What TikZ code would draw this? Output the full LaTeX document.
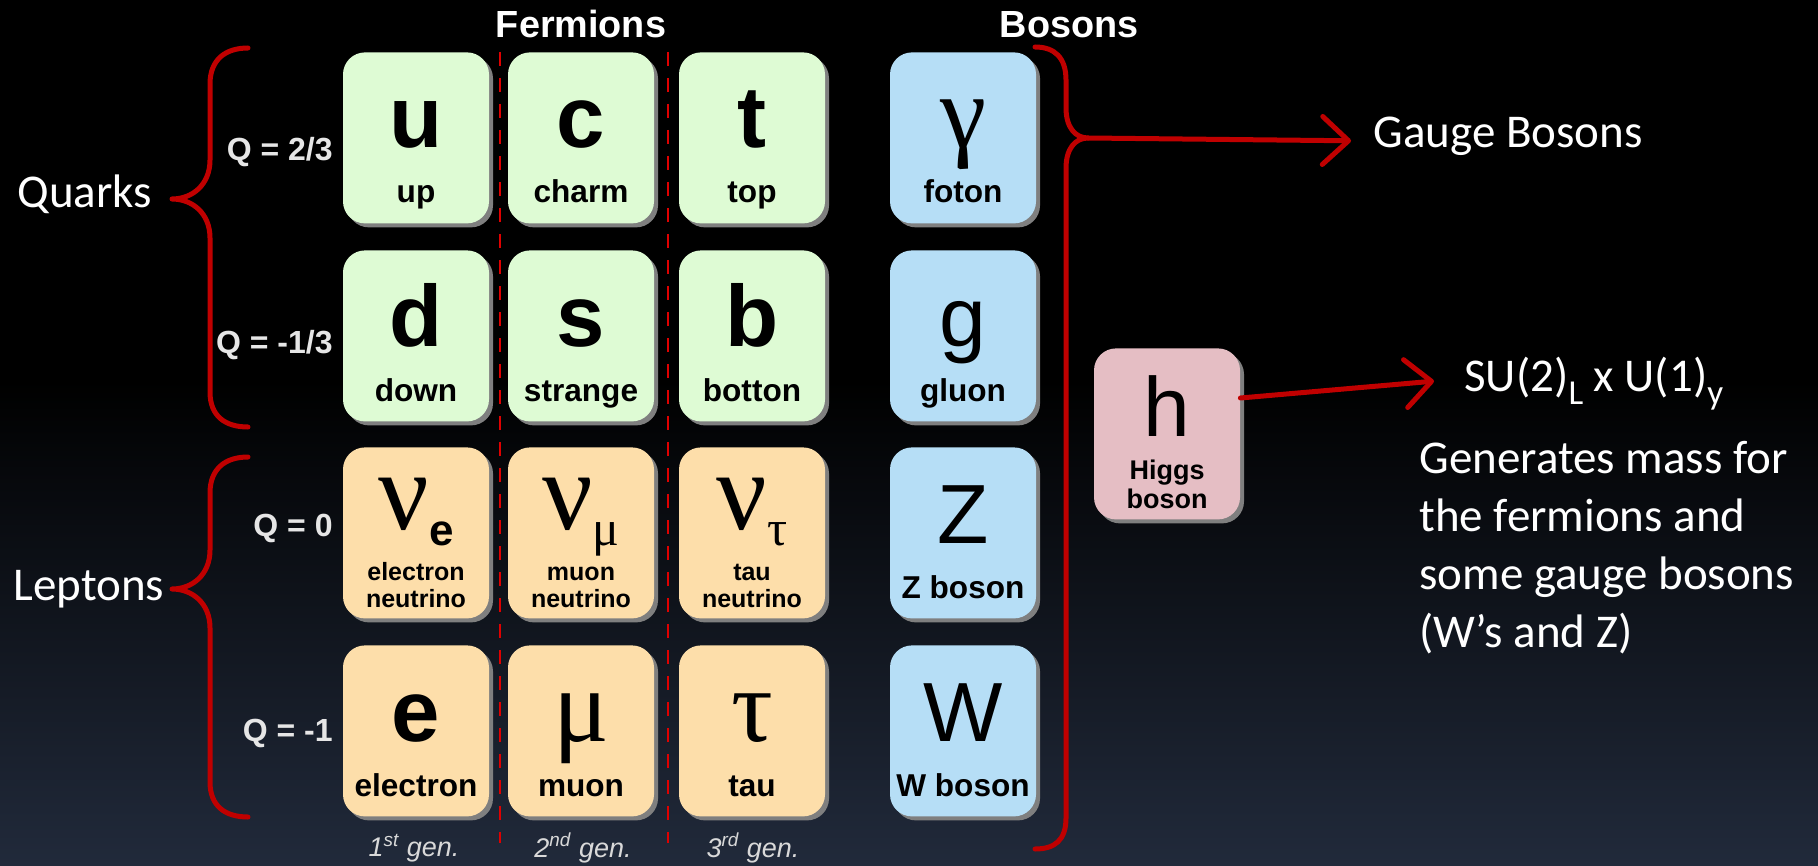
\documentclass[tikz,border=0pt]{standalone}
\usepackage{fontspec}
\setmainfont{Carlito}
\newfontfamily\arialf{Liberation Sans}
\newfontfamily\timesf{Liberation Serif}
\usetikzlibrary{arrows.meta,shadows}

\definecolor{quarkfill}{HTML}{DEFBD4}
\definecolor{leptonfill}{HTML}{FDDEAA}
\definecolor{bosonfill}{HTML}{B6DEF6}
\definecolor{higgsfill}{HTML}{E5BEC4}
\definecolor{shadowgray}{HTML}{7F7F7F}
\definecolor{bracered}{HTML}{C00000}
\definecolor{dashred}{HTML}{E00000}
\definecolor{qgray}{HTML}{E6E6E6}
\definecolor{gengray}{HTML}{D9D9D9}
\definecolor{bgbottom}{HTML}{212A3B}

\newcommand\fsz[1]{\fontsize{#1}{#1}\selectfont}

\tikzset{
  pbox/.style={rectangle, rounded corners=11pt, minimum width=73pt,
    minimum height=85.5pt, inner sep=0pt,
    drop shadow={shadow xshift=2pt, shadow yshift=-2pt, fill=shadowgray, opacity=1}},
  bigsym/.style={font=\arialf\bfseries\fsz{43.5pt}, inner sep=0pt, anchor=base},
  regsym/.style={font=\arialf\fsz{42pt}, inner sep=0pt, anchor=base},
  greeksym/.style={font=\timesf\fsz{52pt}, inner sep=0pt, anchor=base},
  plabel/.style={font=\arialf\bfseries\fsz{15.8pt}, inner sep=0pt, anchor=base},
  slabel/.style={font=\arialf\bfseries\fsz{12.5pt}, inner sep=0pt, anchor=base},
  qlabel/.style={font=\arialf\bfseries\fsz{16pt}, text=qgray, inner sep=0pt, anchor=east},
  header/.style={font=\arialf\bfseries\fsz{18.9pt}, text=white, inner sep=0pt},
  genlabel/.style={font=\arialf\itshape\fsz{13.5pt}, text=gengray, inner sep=0pt},
  sidetext/.style={font=\fsz{23.5pt}, text=white, inner sep=0pt, anchor=base west},
  brace/.style={draw=bracered, line width=2.5pt, line cap=round, line join=round},
  redarrow/.style={draw=bracered, line width=2.5pt, line cap=round,
    -{Straight Barb[length=13pt, width=24pt, line cap=round, line join=round]}},
  gendash/.style={draw=dashred, line width=1pt, dash pattern=on 7pt off 6pt},
}

% particle box: name, centre x, top y, fill, symbol style, symbol, label
\newcommand\particle[7]{%
  \node[pbox, fill=#4, anchor=north] (#1) at (#2,#3) {};
  \node[#5] (#1-s) at ([yshift=-48pt]#1.north) {#6};
  \node[plabel] (#1-l) at ([yshift=-75.5pt]#1.north) {#7};
}
% neutrino box: name, centre x, top y, symbol, first label line
\newcommand\neutrino[5]{%
  \node[pbox, fill=leptonfill, anchor=north] (#1) at (#2,#3) {};
  \node[greeksym, font=\timesf\fsz{56pt}] (#1-s) at ([yshift=-41pt]#1.north) {#4};
  \node[slabel] (#1-l1) at ([yshift=-66.5pt]#1.north) {#5};
  \node[slabel] (#1-l2) at ([yshift=-80pt]#1.north) {neutrino};
}

\begin{document}
\begin{tikzpicture}[x=0.5pt, y=-0.5pt]
  \useasboundingbox (0,0) rectangle (1818,866);
  % background: black fading to dark blue-grey at the bottom
  \fill[black] (0,0) rectangle (1818,866);
  \shade[top color=black, bottom color=bgbottom] (0,380) rectangle (1818,866);

  % generation separators
  \draw[gendash] (500,52) -- (500,843);
  \draw[gendash] (668,52) -- (668,843);

  % headers
  \node[header] (fermions) at (581,24) {Fermions};
  \node[header] (bosons) at (1069,25) {Bosons};

  % quarks
  \particle{up}{416}{52}{quarkfill}{bigsym}{u}{up}
  \particle{charm}{581}{52}{quarkfill}{bigsym}{c}{charm}
  \particle{top}{752}{52}{quarkfill}{bigsym}{t}{top}
  \particle{down}{416}{250}{quarkfill}{bigsym}{d}{down}
  \particle{strange}{581}{250}{quarkfill}{bigsym}{s}{strange}
  \particle{bottom}{752}{250}{quarkfill}{bigsym}{b}{botton}

  % leptons
  \neutrino{nue}{416}{447}{ν\raisebox{-8pt}{\arialf\bfseries\fsz{22pt}e}}{electron}
  \neutrino{numu}{581}{447}{ν\raisebox{-8pt}{\fsz{25pt}μ}}{muon}
  \neutrino{nutau}{752}{447}{ν\raisebox{-8pt}{\fsz{25pt}τ}}{tau}
  \particle{electron}{416}{645}{leptonfill}{bigsym}{e}{electron}
  \particle{muon}{581}{645}{leptonfill}{greeksym}{μ}{muon}
  \particle{tau}{752}{645}{leptonfill}{greeksym}{τ}{tau}

  % gauge bosons
  \particle{photon}{963}{52}{bosonfill}{greeksym}{γ}{foton}
  \particle{gluon}{963}{250}{bosonfill}{regsym}{g}{gluon}
  \particle{zboson}{963}{447}{bosonfill}{regsym}{Z}{Z boson}
  \particle{wboson}{963}{645}{bosonfill}{regsym}{W}{W boson}

  % Higgs
  \node[pbox, fill=higgsfill, anchor=north] (higgs) at (1167,348) {};
  \node[regsym] (higgs-s) at ([yshift=-44pt]higgs.north) {h};
  \node[slabel, font=\arialf\bfseries\fsz{13.5pt}] (higgs-l1) at ([yshift=-65.5pt]higgs.north) {Higgs};
  \node[slabel, font=\arialf\bfseries\fsz{13.5pt}] (higgs-l2) at ([yshift=-80pt]higgs.north) {boson};

  % charges
  \node[qlabel] (q1) at (333,152) {Q = 2/3};
  \node[qlabel] (q2) at (333,345) {Q = -1/3};
  \node[qlabel] (q3) at (333,528) {Q = 0};
  \node[qlabel] (q4) at (333,733) {Q = -1};

  % generation labels
  \node[genlabel] (gen1) at (414,848) {1\textsuperscript{st} gen.};
  \node[genlabel] (gen2) at (583,848) {2\textsuperscript{nd} gen.};
  \node[genlabel] (gen3) at (753,848) {3\textsuperscript{rd} gen.};

  % braces
  \draw[brace] (248,48) .. controls (225,48) and (210,60) .. (210,84) -- (210,160)
    .. controls (210,185) and (192,199) .. (172,199)
    .. controls (192,199) and (210,213) .. (210,238) -- (210,392)
    .. controls (210,416) and (225,427) .. (248,427);
  \draw[brace] (248,457) .. controls (225,457) and (210,469) .. (210,493) -- (210,550)
    .. controls (210,575) and (192,589) .. (172,589)
    .. controls (192,589) and (210,603) .. (210,628) -- (210,782)
    .. controls (210,806) and (225,817) .. (248,817);
  \draw[brace] (1035,47) .. controls (1055,47) and (1066,58) .. (1066,80) -- (1066,108)
    .. controls (1066,127) and (1075,138) .. (1088,138)
    .. controls (1075,138) and (1066,149) .. (1066,168) -- (1066,818)
    .. controls (1066,840) and (1055,849) .. (1035,849);
  \coordinate (gaugetip) at (1088,138);

  % group names
  \node[sidetext] (quarks) at (17,208) {Quarks};
  \node[sidetext] (leptons) at (13,600) {Leptons};

  % right-hand annotations
  \node[sidetext] (gauge) at (1373,148) {Gauge Bosons};
  \node[sidetext] (su) at (1464,391) {SU(2)\raisebox{-6.5pt}{\fsz{17.5pt}L} x U(1)\raisebox{-6.5pt}{\fsz{17.5pt}y}};
  % multi-line node: its base anchor sits on the last line
  \node[sidetext, align=left, font=\fontsize{23.5pt}{29pt}\selectfont] (mass) at (1419,647)
    {Generates mass for\\the fermions and\\some gauge bosons\\(W’s and Z)};

  % arrows
  \draw[redarrow] (gaugetip) -- ([xshift=-11pt,yshift=-2pt]gauge.west);
  \draw[redarrow] ([yshift=-25pt]higgs.north east) -- ([xshift=-15pt,yshift=1pt]su.west);
\end{tikzpicture}
\end{document}
